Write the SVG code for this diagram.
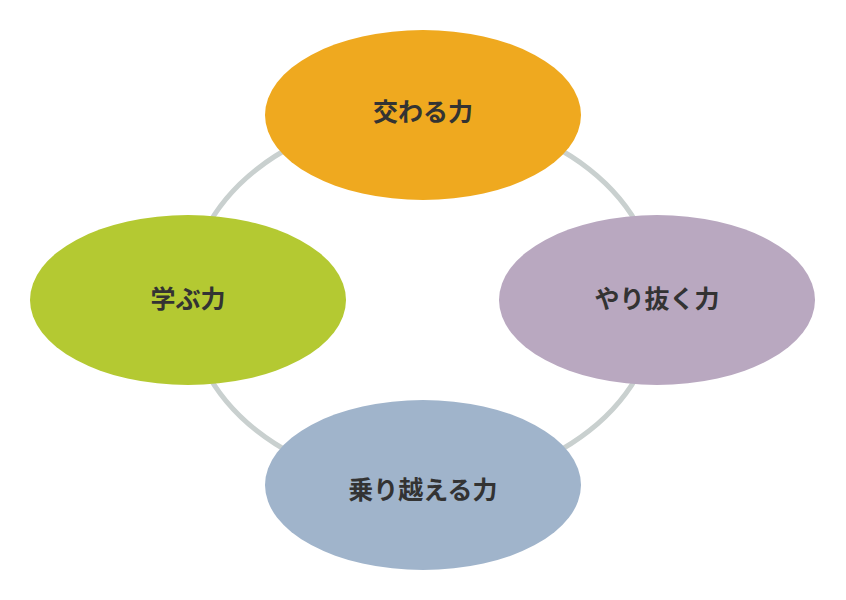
<svg xmlns="http://www.w3.org/2000/svg" width="846" height="600" viewBox="0 0 846 600">
<style>
text{font-family:"Noto Sans CJK JP","Noto Sans CJK SC",sans-serif;font-weight:bold;font-size:25px;fill:#333333;text-anchor:middle;dominant-baseline:central}
</style>
<rect width="846" height="600" fill="#ffffff"/>
<g id="connectors"><ellipse cx="423" cy="300" rx="235" ry="185" fill="none" stroke="#c9d0cf" stroke-width="5"/></g>
<g id="top"><ellipse cx="423" cy="115" rx="158" ry="85" fill="#efa91f"/><text x="423" y="110">交わる力</text></g>
<g id="right"><ellipse cx="657" cy="300" rx="158" ry="85" fill="#b9a8c0"/><text x="657" y="297">やり抜く力</text></g>
<g id="bottom"><ellipse cx="423" cy="485" rx="158" ry="85" fill="#a0b4cb"/><text x="423" y="488">乗り越える力</text></g>
<g id="left"><ellipse cx="188" cy="300" rx="158" ry="85" fill="#b4c932"/><text x="188" y="297">学ぶ力</text></g>
</svg>
